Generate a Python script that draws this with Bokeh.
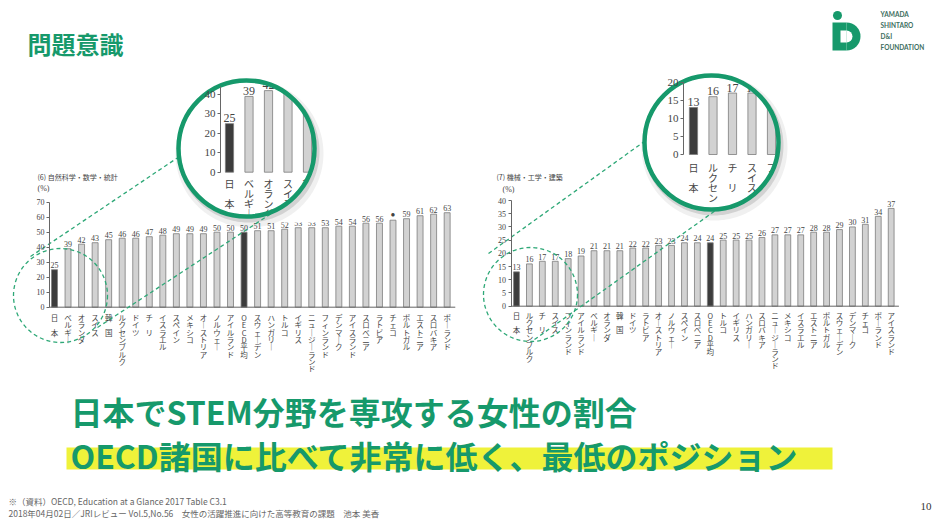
import numpy as np
from bokeh.plotting import figure
from bokeh.models import Range1d, LinearAxis, FixedTicker, ColumnDataSource
from bokeh.core.properties import value
from bokeh.embed import file_html
from bokeh.resources import INLINE

# ---------------- data ----------------
sci_countries = ["日本", "ベルギー", "オランダ", "スイス", "韓国", "ルクセンブルク", "ドイツ", "チリ",
                 "イスラエル", "スペイン", "メキシコ", "オーストリア", "ノルウェー", "アイルランド",
                 "OECD平均", "スウェーデン", "ハンガリー", "トルコ", "イギリス", "ニュージーランド",
                 "フィンランド", "デンマーク", "アイスランド", "スロベニア", "ラトビア", "チェコ",
                 "ポルトガル", "エストニア", "スロバキア", "ポーランド"]
sci_values = [25, 39, 42, 43, 45, 46, 46, 47, 48, 49, 49, 49, 50, 50, 50, 51, 51, 52, 53, 53,
              53, 54, 54, 56, 56, 58, 59, 61, 62, 63]
sci_ticks = [0, 10, 20, 30, 40, 50, 60, 70]
sci_title = "(6) 自然科学・数学・統計"
sci_marked = ["チェコ"]  # value replaced by a dot

eng_countries = ["日本", "ルクセンブルク", "チリ", "スイス", "フィンランド", "アイルランド", "ベルギー",
                 "オランダ", "韓国", "ドイツ", "ラトビア", "オーストリア", "ノルウェー", "スペイン",
                 "スロベニア", "OECD平均", "トルコ", "イギリス", "ハンガリー", "スロバキア",
                 "ニュージーランド", "メキシコ", "イスラエル", "エストニア", "ポルトガル", "スウェーデン",
                 "デンマーク", "チェコ", "ポーランド", "アイスランド"]
eng_values = [13, 16, 17, 17, 18, 19, 21, 21, 21, 22, 22, 23, 23, 24, 24, 24, 25, 25, 25, 26,
              27, 27, 27, 28, 28, 29, 30, 31, 34, 37]
eng_ticks = [0, 5, 10, 15, 20, 25, 30, 35, 40]
eng_title = "(7) 機械・工学・建築"

sci_zoom_ticks = [0, 10, 20, 30, 40]
eng_zoom_ticks = [0, 5, 10, 15, 20]
zoom_count = 5

highlighted = ["日本", "OECD平均"]

page_title = "問題意識"
headline1 = "日本でSTEM分野を専攻する女性の割合"
headline2 = "OECD諸国に比べて非常に低く、最低のポジション"
footer1 = "※（資料）OECD, Education at a Glance 2017 Table C3.1"
footer2 = "2018年04月02日／JRIレビュー Vol.5,No.56　女性の活躍推進に向けた高等教育の課題　池本 美香"
page_no = "10"
logo_lines = ["YAMADA", "SHINTARO", "D&I", "FOUNDATION"]

# ---------------- styles ----------------
GREEN = "#16996b"
DASH_GREEN = "#2ea877"
LIGHT = "#d2d2d2"
DARK = "#3c3c3c"
EDGE = "#7c7c7c"
TXT = "#444444"
JP = "Noto Sans CJK JP"
SERIF = "Liberation Serif"

FX0, FX1, FY0, FY1 = 0, 940, 0, 527
p = figure(width=FX1 - FX0, height=FY1 - FY0, x_range=Range1d(FX0, FX1), y_range=Range1d(FY1, FY0),
           x_axis_type=None, y_axis_type=None, toolbar_location=None, output_backend="svg",
           min_border=0, outline_line_color=None, background_fill_color="white")


def add_ranges(key, x0, dx, y0, sy):
    p.extra_x_ranges[key] = Range1d((FX0 - x0) / dx, (FX1 - x0) / dx)
    p.extra_y_ranges[key] = Range1d((y0 - FY1) / sy, (y0 - FY0) / sy)


def bar_chart(key, cats, vals, x0, dx, y0, sy, bar_w, axis_x, ticks, bounds,
              lab_font, tick_font, cat_font, cat_top, cat_step, marked=(), n=None,
              baseline=True, max_chars=None):
    add_ranges(key, x0, dx, y0, sy)
    if n is not None:
        cats, vals = cats[:n], vals[:n]
    idx = list(range(len(cats)))
    fills = [DARK if c in highlighted else LIGHT for c in cats]
    src = ColumnDataSource(dict(i=idx, v=vals, fill=fills))
    p.vbar(x="i", top="v", bottom=0, width=bar_w, source=src, fill_color="fill",
           line_color=EDGE, line_width=0.8, x_range_name=key, y_range_name=key)
    labels = ["●" if c in marked else str(v) for c, v in zip(cats, vals)]
    p.text(x=idx, y=[v + 1.5 / sy for v in vals], text=labels, x_range_name=key, y_range_name=key,
           text_align="center", text_baseline="bottom", text_font=value(SERIF),
           text_font_size=value(lab_font), text_color=TXT)
    xs, ys, ts = [], [], []
    for i, c in enumerate(cats):
        chars = list(c.replace("ー", "｜"))
        st = cat_step * 2 if len(chars) == 2 else cat_step
        if max_chars is not None:
            chars = chars[:max_chars]
        for k, ch in enumerate(chars):
            xs.append(i)
            ys.append((y0 - (cat_top + k * st)) / sy)
            ts.append(ch)
    p.text(x=xs, y=ys, text=ts, x_range_name=key, y_range_name=key, text_align="center",
           text_baseline="middle", text_font=value(JP), text_font_size=value(cat_font),
           text_color=TXT)
    if baseline:
        p.segment(x0=[(axis_x - x0) / dx], x1=[len(cats) - 0.4], y0=[0], y1=[0],
                  x_range_name=key, y_range_name=key, line_color="#666", line_width=1)
    ax = LinearAxis(y_range_name=key, fixed_location=axis_x, ticker=FixedTicker(ticks=ticks),
                    bounds=bounds, major_tick_out=3, major_tick_in=0, minor_tick_out=0,
                    minor_tick_in=0, axis_line_color="#666", major_tick_line_color="#666",
                    major_label_text_font=SERIF, major_label_text_font_size=tick_font,
                    major_label_text_color=TXT, major_label_standoff=2)
    p.add_layout(ax, "left")


# main charts
bar_chart("sci", sci_countries, sci_values, 54, 13.54, 306.7, 1.5, 0.44, 49, sci_ticks, (0, 70),
          "8px", "8px", "7.5px", 317, 7.3, marked=sci_marked)
bar_chart("eng", eng_countries, eng_values, 516, 12.92, 305.7, 2.6425, 0.45, 510.5, eng_ticks, (0, 40),
          "8px", "8px", "7.5px", 315, 7.2)

p.text(x=[37, 496], y=[176, 176], text=[sci_title, eng_title], text_font=value(JP),
       text_font_size=value("7px"), text_color=TXT, text_baseline="middle")
p.text(x=[37, 502], y=[188, 189], text=["(%)", "(%)"], text_font=value(SERIF),
       text_font_size=value("8px"), text_color=TXT, text_baseline="middle")

# headline
p.quad(left=[66], right=[832], top=[447], bottom=[469], fill_color="#eff23a", line_color=None)
p.text(x=[70, 70], y=[410, 454], text=[headline1, headline2], text_font=value(JP),
       text_font_style="bold", text_font_size=value("32px"), text_color=GREEN,
       text_baseline="middle")
p.text(x=[27], y=[43], text=[page_title], text_font=value(JP), text_font_style="bold",
       text_font_size=value("24px"), text_color=GREEN, text_baseline="middle")
p.text(x=[8, 8], y=[500, 512], text=[footer1, footer2], text_font=value(JP),
       text_font_size=value("8.5px"), text_color="#666666", text_baseline="middle")
p.text(x=[931], y=[506], text=[page_no], text_font=value(SERIF), text_font_size=value("11px"),
       text_color="#333333", text_align="right", text_baseline="middle")

# logo
p.circle(x=[837], y=[15], radius=4.5, fill_color=GREEN, line_color=None)
p.quad(left=[832], right=[846], top=[22], bottom=[50], fill_color=GREEN, line_color=None)
p.annular_wedge(x=[846], y=[36], inner_radius=0, outer_radius=14, start_angle=-np.pi / 2,
                end_angle=np.pi / 2, fill_color=GREEN, line_color=None)
p.quad(left=[840], right=[846], top=[30], bottom=[42], fill_color="white", line_color=None)
p.annular_wedge(x=[846], y=[36], inner_radius=0, outer_radius=6, start_angle=-np.pi / 2,
                end_angle=np.pi / 2, fill_color="white", line_color=None)
p.text(x=[880] * 4, y=[14, 25, 36, 47], text=logo_lines, text_font=value("Lato"),
       text_font_style="bold", text_font_size=value("6.5px"), text_color="#3d6e5e",
       text_baseline="middle")

# magnifier circles
mags = [dict(cx=246, cy=148, r=68), dict(cx=711, cy=142, r=67)]


def slit_shape(outer_x, outer_y, cx, cy, r, sign):
    t = np.linspace(0, sign * 2 * np.pi, 241)
    return list(outer_x) + list(cx + r * np.cos(t)), list(outer_y) + list(cy + r * np.sin(t))


for m, spec in zip(mags, ["sci", "eng"]):
    cx, cy, r = m["cx"], m["cy"], m["r"]
    p.circle(x=[cx], y=[cy], radius=r, fill_color="white", line_color=None)
    if spec == "sci":
        bar_chart("sci_z", sci_countries, sci_values, 229, 19.5, 171.7, 1.9425, 0.42, 220,
                  sci_zoom_ticks, (0, 44), "12px", "11px", "10px", 183, 10, n=zoom_count,
                  baseline=False, max_chars=4)
    else:
        bar_chart("eng_z", eng_countries, eng_values, 693, 19.5, 154, 3.615, 0.42, 683,
                  eng_zoom_ticks, (0, 20), "12px", "11px", "10px", 167, 10, n=zoom_count,
                  baseline=False, max_chars=4)
    b = r + 6
    bx = [cx + b, cx + b, cx - b, cx - b, cx + b, cx + b]
    by = [cy, cy - b, cy - b, cy + b, cy + b, cy]
    mx, my = slit_shape(bx, by, cx, cy, r, 1)
    p.patch(mx, my, fill_color="white", line_color=None)
    for (ox, oy, e, a) in [(3, 5, 6, 0.06), (2, 3, 3, 0.12)]:
        t = np.linspace(0, 2 * np.pi, 241)
        sx, sy_ = slit_shape(cx + ox + (r + e) * np.cos(t), cy + oy + (r + e) * np.sin(t),
                             cx, cy, r, -1)
        p.patch(sx, sy_, fill_color="black", fill_alpha=a, line_color=None)

# dashed guides
dash_circles = [dict(cx=60, cy=295, r=47), dict(cx=530, cy=294, r=47)]
for d in dash_circles:
    p.circle(x=[d["cx"]], y=[d["cy"]], radius=d["r"], fill_color=None, line_color=DASH_GREEN,
             line_width=1.3, line_dash="4 3")


def on_circle(m, ang_deg):
    a = np.deg2rad(ang_deg)
    return m["cx"] + m["r"] * np.cos(a), m["cy"] + m["r"] * np.sin(a)


lines = [((30, 256), on_circle(mags[0], 173)), ((97, 327), on_circle(mags[0], 59)),
         ((488, 253), on_circle(mags[1], 181)), ((534, 339), on_circle(mags[1], 85))]
p.segment(x0=[a[0] for a, b_ in lines], y0=[a[1] for a, b_ in lines],
          x1=[b_[0] for a, b_ in lines], y1=[b_[1] for a, b_ in lines],
          line_color=DASH_GREEN, line_width=1.3, line_dash="4 3")

for m in mags:
    p.circle(x=[m["cx"]], y=[m["cy"]], radius=m["r"], fill_color=None, line_color=GREEN,
             line_width=4.5)

open("out.html", "w").write(file_html(p, INLINE))
